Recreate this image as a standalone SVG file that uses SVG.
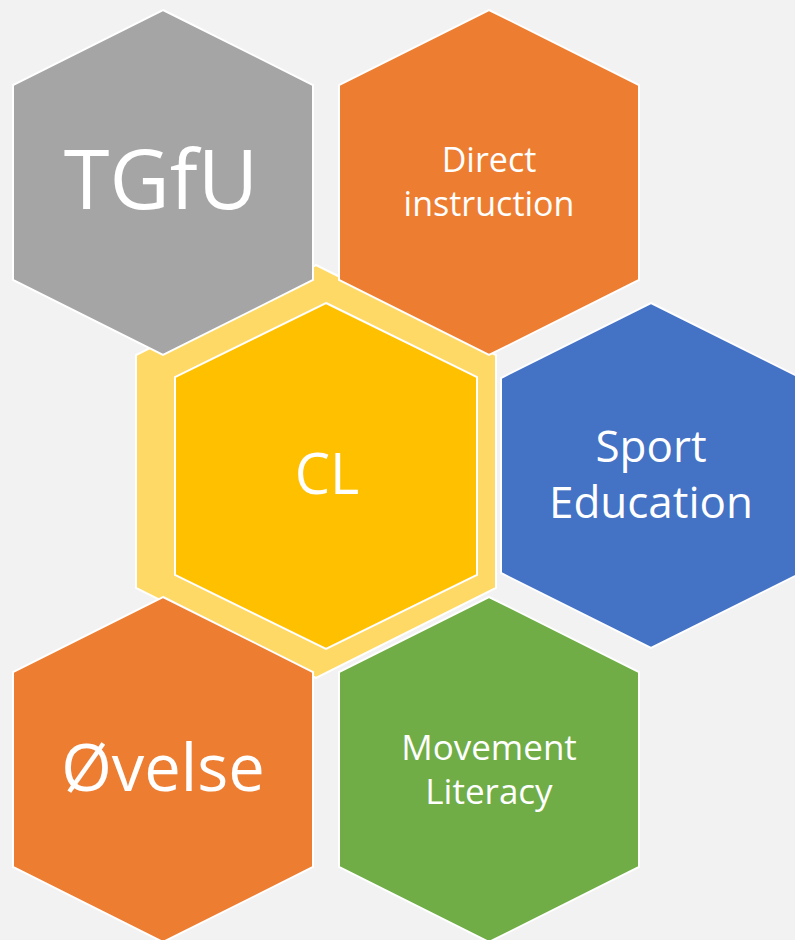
<svg xmlns="http://www.w3.org/2000/svg" width="795" height="940" viewBox="0 0 795 940">
<style>
.hex{stroke:#FFFFFF;stroke-width:2;stroke-linejoin:miter}
.t{fill:#FFFFFF;font-family:"Open Sans","Noto Sans","Liberation Sans",sans-serif;text-anchor:middle}
</style>
<rect x="0" y="0" width="795" height="940" fill="#F2F2F2"/>
<g id="connectors"></g>
<g id="cl-ring">
<polygon class="hex" fill="#FFD966" points="316,265 496,355 496,588 316,678 136,588 136,355"/>
</g>
<g id="tgfu">
<polygon class="hex" fill="#A5A5A5" points="163,10 313,85 313,280 163,355 13,280 13,85"/>
<text class="t" x="161" y="209" font-size="83">TGfU</text>
</g>
<g id="direct">
<polygon class="hex" fill="#ED7D31" points="489,10 639,85 639,280 489,355 339,280 339,85"/>
<text class="t" x="489" y="172" font-size="34">Direct</text>
<text class="t" x="489" y="216" font-size="34">instruction</text>
</g>
<g id="sport">
<polygon class="hex" fill="#4472C4" points="651,303 801,378 801,573 651,648 501,573 501,378"/>
<text class="t" x="651" y="462" font-size="44">Sport</text>
<text class="t" x="651" y="518" font-size="44">Education</text>
</g>
<g id="ovelse">
<polygon class="hex" fill="#ED7D31" points="163,597 313,672 313,867 163,942 13,867 13,672"/>
<text class="t" x="163" y="791" font-size="65">Øvelse</text>
</g>
<g id="movement">
<polygon class="hex" fill="#70AD47" points="489,597 639,672 639,867 489,942 339,867 339,672"/>
<text class="t" x="489" y="760" font-size="35">Movement</text>
<text class="t" x="489" y="804" font-size="35">Literacy</text>
</g>
<g id="cl">
<polygon class="hex" fill="#FFC000" points="326,303 477,377 477,575 326,649 175,575 175,377"/>
<text class="t" x="327" y="494" font-size="56">CL</text>
</g>
</svg>
